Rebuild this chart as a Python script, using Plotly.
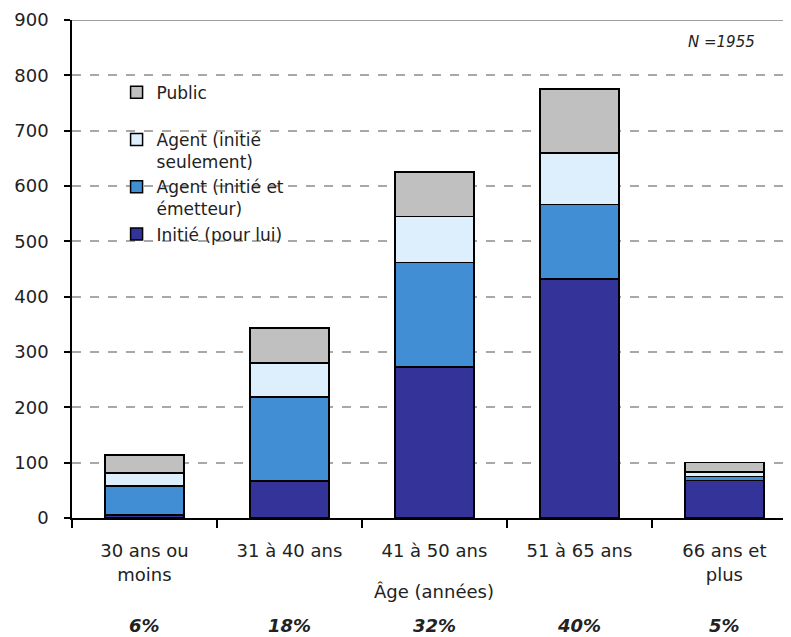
import plotly.graph_objects as go

categories = ["30 ans ou<br>moins", "31 à 40 ans", "41 à 50 ans", "51 à 65 ans", "66 ans et<br>plus"]
initie = [5, 67, 273, 432, 68]
agent_emetteur = [53, 152, 189, 135, 7]
agent_seulement = [23, 61, 83, 93, 8]
public = [33, 63, 80, 115, 17]
percents = ["6%", "18%", "32%", "40%", "5%"]

FONT = "DejaVu Sans"
series = [
    ("Initié (pour lui)<br> ", initie, "#333399"),
    ("Agent (initié et<br>émetteur)", agent_emetteur, "#418ED4"),
    ("Agent (initié<br>seulement)", agent_seulement, "#DDEEFC"),
    ("Public<br> ", public, "#C0C0C0"),
]

fig = go.Figure()
for name, vals, col in series:
    fig.add_trace(go.Bar(
        x=categories, y=vals, name=name,
        marker=dict(color=col, line=dict(color="black", width=1.5)),
        width=0.545,
    ))

# page body has an 8px default margin; compensate so the plot lands where the reference has it
fig.update_layout(
    barmode="stack",
    width=783, height=629,
    margin=dict(l=64, r=0, t=12, b=119, autoexpand=False),
    paper_bgcolor="white", plot_bgcolor="white",
    font=dict(family=FONT, size=18, color="#222222"),
    showlegend=True,
    legend=dict(
        x=0.062, y=0.89, xanchor="left", yanchor="top",
        traceorder="reversed", valign="top",
        font=dict(family=FONT, size=17, color="#222222"),
        bgcolor="rgba(0,0,0,0)",
    ),
    xaxis=dict(
        range=[-0.5, 4.46], automargin=False,
        showline=True, linecolor="black", linewidth=1.5,
        ticks="outside", tickson="boundaries", ticklen=8, tickcolor="black", tickwidth=1.5,
        showgrid=False, ticklabelstandoff=16,
        tickfont=dict(family=FONT, size=18, color="#222222"),
    ),
    yaxis=dict(
        range=[0, 900], dtick=100, automargin=False,
        showline=True, linecolor="black", linewidth=1.5,
        ticks="outside", ticklen=6, tickcolor="black", tickwidth=1.5,
        showgrid=True, gridcolor="#A8A8A8", griddash="dash", gridwidth=1.5,
        zeroline=False, ticklabelstandoff=12,
        tickfont=dict(family=FONT, size=18, color="#222222"),
    ),
    bargap=0.45,
)

fig.add_shape(type="line", xref="paper", yref="y", x0=0, x1=1, y0=900, y1=900,
              line=dict(color="#A0A0A0", width=2))

fig.add_annotation(text="<i>N =1955</i>", xref="paper", yref="paper",
                   x=0.904, y=0.955, xanchor="center", yanchor="middle",
                   showarrow=False, font=dict(family=FONT, size=15, color="#222222"))

fig.add_annotation(text="Âge (années)", xref="x", yref="paper", x=2, y=-0.148,
                   xanchor="center", yanchor="middle", showarrow=False,
                   font=dict(family=FONT, size=18, color="#222222"))

for c, p in zip(categories, percents):
    fig.add_annotation(text="<b><i>" + p + "</i></b>", xref="x", yref="paper", x=c, y=-0.215,
                       xanchor="center", yanchor="middle", showarrow=False,
                       font=dict(family=FONT, size=18, color="#222222"))

fig.write_html("out.html")
